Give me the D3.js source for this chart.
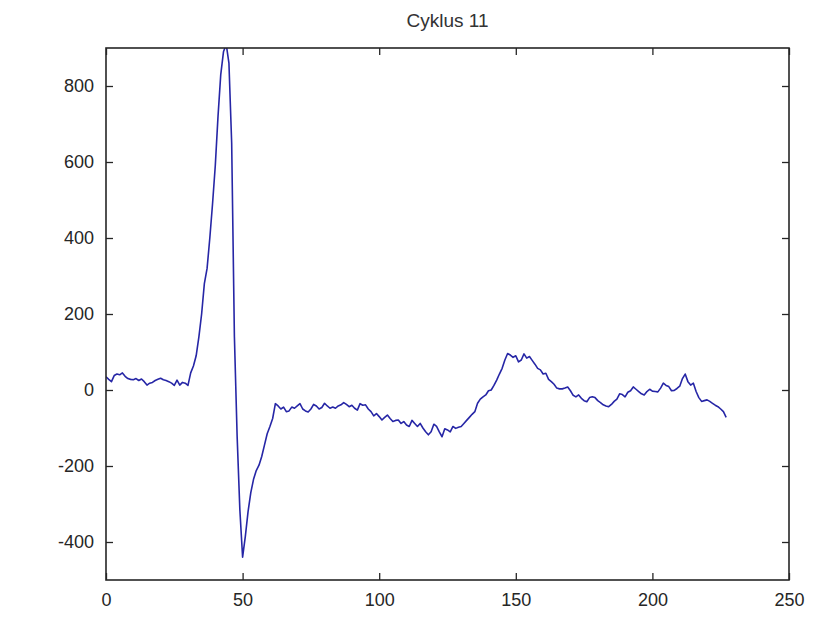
<!DOCTYPE html>
<html>
<head>
<meta charset="utf-8">
<script src="https://cdn.jsdelivr.net/npm/d3@7"></script>
<style>
html,body{margin:0;padding:0;background:#fff;}
svg{display:block;}
text{font-family:"Liberation Sans",Arial,sans-serif;}
</style>
</head>
<body>
<svg id="chart" width="827" height="622"></svg>
<script>
const title = "Cyklus 11";
const xTicks = [0, 50, 100, 150, 200, 250];
const yTicks = [-400, -200, 0, 200, 400, 600, 800];
const xDomain = [0, 250];
const yDomain = [-500, 900];
const values = [
  35, 28, 22, 38, 42, 40, 45, 36, 30, 28,
  27, 30, 25, 29, 22, 13, 18, 20, 25, 28,
  31, 27, 25, 22, 18, 12, 26, 13, 20, 18,
  12, 45, 63, 90, 140, 200, 280, 320, 400, 490,
  590, 720, 830, 890, 910, 860, 650, 140, -122, -316,
  -440, -385, -320, -270, -235, -212, -198, -175, -145, -115,
  -96, -75, -36, -42, -50, -45, -57, -55, -45, -48,
  -42, -36, -50, -55, -58, -50, -38, -42, -50, -46,
  -35, -42, -48, -45, -48, -42, -39, -33, -38, -44,
  -40, -48, -53, -36, -40, -39, -50, -57, -68, -62,
  -70, -79, -72, -66, -75, -83, -80, -79, -88, -83,
  -92, -96, -80, -88, -96, -88, -100, -110, -118, -110,
  -90, -96, -110, -123, -102, -105, -110, -96, -101, -98,
  -96, -88, -80, -72, -64, -57, -35, -24, -18, -13,
  -2, 0, 12, 26, 42, 57, 79, 96, 92, 86,
  90, 74, 79, 95, 84, 88, 78, 68, 57, 53,
  42, 44, 28, 22, 15, 5, 3, 3, 5, 8,
  -2, -14, -18, -13, -22, -28, -31, -20, -18, -20,
  -28, -33, -39, -42, -44, -38, -30, -24, -10, -12,
  -18, -6, -2, 8, 2, -4, -10, -13, -4, 2,
  -3, -4, -5, 5, 18, 12, 9, -2, -1, 4,
  10, 30, 42, 22, 13, 18, -4, -20, -30, -28,
  -26, -30, -35, -40, -44, -50, -57, -72
];

const svg = d3.select("#chart");
const m = {left: 106, right: 827 - 789, top: 48, bottom: 622 - 580};
const W = 827 - m.left - m.right, H = 622 - m.top - m.bottom;
const x = d3.scaleLinear().domain(xDomain).range([m.left, m.left + W]);
const y = d3.scaleLinear().domain(yDomain).range([m.top + H, m.top]);

svg.append("defs").append("clipPath").attr("id", "clip")
  .append("rect").attr("x", m.left).attr("y", m.top).attr("width", W).attr("height", H);

const line = d3.line().x((d, i) => x(i)).y(d => y(d));
svg.append("path").datum(values)
  .attr("clip-path", "url(#clip)")
  .attr("fill", "none").attr("stroke", "#2626a6").attr("stroke-width", 1.6)
  .attr("stroke-linejoin", "round")
  .attr("d", line);

const tl = 7, col = "#262626";
const fmt = d => String(d);
const axB = d3.axisBottom(x).tickValues(xTicks).tickSizeInner(-tl).tickSizeOuter(0).tickPadding(13).tickFormat(fmt);
const axT = d3.axisTop(x).tickValues(xTicks).tickSizeInner(-tl).tickSizeOuter(0).tickFormat("");
const axL = d3.axisLeft(y).tickValues(yTicks).tickSizeInner(-tl).tickSizeOuter(0).tickPadding(12).tickFormat(fmt);
const axR = d3.axisRight(y).tickValues(yTicks).tickSizeInner(-tl).tickSizeOuter(0).tickFormat("");

function style(g){
  g.selectAll(".domain").remove();
  g.selectAll("line").attr("stroke", col).attr("stroke-width", 1.3);
  g.selectAll("text").attr("fill", col).style("font-size", "18px")
   .style("font-family", "'Liberation Sans', Arial, sans-serif");
}
svg.append("g").attr("transform", `translate(0,${m.top + H})`).call(axB).call(style);
svg.append("g").attr("transform", `translate(0,${m.top})`).call(axT).call(style);
svg.append("g").attr("transform", `translate(${m.left},0)`).call(axL).call(style);
svg.append("g").attr("transform", `translate(${m.left + W},0)`).call(axR).call(style);

svg.append("rect").attr("x", m.left).attr("y", m.top).attr("width", W).attr("height", H)
  .attr("fill", "none").attr("stroke", col).attr("stroke-width", 1.6);

svg.append("text").attr("x", m.left + W / 2).attr("y", 27)
  .attr("text-anchor", "middle").attr("fill", "#333")
  .style("font-size", "19px").text(title);
</script>
</body>
</html>
